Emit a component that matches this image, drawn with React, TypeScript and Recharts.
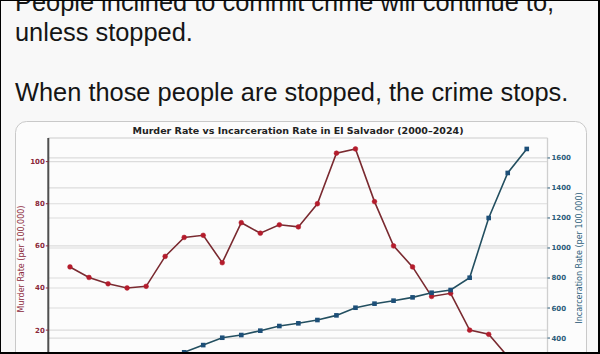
import React from "react";
import { ComposedChart, Line, XAxis, YAxis, CartesianGrid } from "recharts";

const years = [2000, 2001, 2002, 2003, 2004, 2005, 2006, 2007, 2008, 2009, 2010, 2011, 2012, 2013, 2014, 2015, 2016, 2017, 2018, 2019, 2020, 2021, 2022, 2023, 2024];
const murderRate = [50, 45, 42, 40, 40.8, 55, 64, 65, 52, 71, 66, 70, 69, 80, 104, 106, 81, 60, 50, 36, 37.5, 20, 18, 7.5, 2];
const incarcerationRate = [200, 210, 220, 230, 242, 260, 305, 353, 402, 420, 449, 480, 498, 520, 551, 602, 629, 649, 671, 702, 720, 802, 1200, 1500, 1660];

const yearTicks = [2000, 2005, 2010, 2015, 2020];
const murderTicks = [20, 40, 60, 80, 100];
const incarcerationTicks = [400, 600, 800, 1000, 1200, 1400, 1600];

const headerLines = [
  { text: "People inclined to commit crime will continue to,", y: 10.5 },
  { text: "unless stopped.", y: 40.7 },
  { text: "When those people are stopped, the crime stops.", y: 101 },
];
const title = "Murder Rate vs Incarceration Rate in El Salvador (2000\u20132024)";
const leftLabel = "Murder Rate (per 100,000)";
const rightLabel = "Incarceration Rate (per 100,000)";

const data = years.map((y, i) => ({ year: y, murder: murderRate[i], incarceration: incarcerationRate[i] }));

const RED_LINE = "#7a2a30";
const RED_DOT = "#b41c2c";
const BLUE_LINE = "#234f60";
const BLUE_DOT = "#1d4f78";
const RED_TEXT = "#8a2738";
const BLUE_TEXT = "#2b5c7a";
const FONT = "'DejaVu Sans', sans-serif";

const SquareDot = (props: any) => {
  const { cx, cy, index } = props;
  if (cx == null || cy == null) return <g key={index} />;
  return <rect key={index} x={cx - 2.3} y={cy - 2.3} width={4.6} height={4.6} fill={BLUE_DOT} />;
};

export default function App() {
  return (
    <div style={{ position: "absolute", left: 0, top: 0, width: 600, height: 354, overflow: "hidden", background: "#f8f8f8" }}>
      <svg width={600} height={354} style={{ position: "absolute", left: 0, top: 0 }}>
        <rect x={15.5} y={121.5} width={571} height={300} rx={11} ry={11} fill="#fcfcfc" stroke="#c9c9c9" strokeWidth={1} />
      </svg>
      <div style={{ position: "absolute", left: 0, top: 0 }}>
        <ComposedChart width={600} height={400} data={data} margin={{ top: 138, right: 22.5, bottom: 1, left: 18.3 }}>
          <CartesianGrid yAxisId="left" stroke="#dcdcdc" strokeWidth={1.2} vertical={true} horizontal={true} />
          <CartesianGrid yAxisId="right" stroke="#dcdcdc" strokeWidth={1.2} vertical={false} horizontal={true} />
          <XAxis
            dataKey="year"
            type="number"
            domain={[1998.86, 2025.09]}
            ticks={yearTicks}
            allowDataOverflow
            height={20}
            tick={false}
            tickLine={false}
            axisLine={{ stroke: "#555" }}
          />
          <YAxis
            yAxisId="left"
            orientation="left"
            type="number"
            domain={[-3.2, 111.2]}
            ticks={murderTicks}
            allowDataOverflow
            width={30}
            tickSize={2.5}
            tickMargin={1}
            tickLine={{ stroke: RED_TEXT }}
            axisLine={{ stroke: "#4f4f4f", strokeWidth: 2 }}
            tick={{ fontSize: 7, fontWeight: 700, fill: RED_TEXT, fontFamily: FONT }}
          />
          <YAxis
            yAxisId="right"
            orientation="right"
            type="number"
            domain={[127, 1733]}
            ticks={incarcerationTicks}
            allowDataOverflow
            width={30}
            tickSize={2.5}
            tickMargin={1.5}
            tickLine={{ stroke: BLUE_TEXT }}
            axisLine={{ stroke: "#cfcfcf", strokeWidth: 1.2 }}
            tick={{ fontSize: 7, fontWeight: 700, fill: BLUE_TEXT, fontFamily: FONT }}
          />
          <Line
            yAxisId="left"
            dataKey="murder"
            stroke={RED_LINE}
            strokeWidth={1.6}
            dot={{ r: 2.4, fill: RED_DOT, stroke: RED_DOT, strokeWidth: 0.5 }}
            isAnimationActive={false}
          />
          <Line
            yAxisId="right"
            dataKey="incarceration"
            stroke={BLUE_LINE}
            strokeWidth={1.6}
            dot={SquareDot}
            isAnimationActive={false}
          />
        </ComposedChart>
      </div>
      <svg width={600} height={354} style={{ position: "absolute", left: 0, top: 0, pointerEvents: "none" }}>
        {headerLines.map((l, i) => (
          <text key={i} x={15} y={l.y} fontFamily="'Liberation Sans', Arial, sans-serif" fontSize={25.4} fill="#151515">
            {l.text}
          </text>
        ))}
        <text x={298} y={134} textAnchor="middle" fontFamily={FONT} fontSize={9.5} fontWeight={700} fill="#222">
          {title}
        </text>
        <text x={21} y={259} transform="rotate(-90 21 259)" textAnchor="middle" dominantBaseline="central" fontFamily={FONT} fontSize={8} fill={RED_TEXT}>
          {leftLabel}
        </text>
        <text x={579} y={258} transform="rotate(-90 579 258)" textAnchor="middle" dominantBaseline="central" fontFamily={FONT} fontSize={8} fill={BLUE_TEXT}>
          {rightLabel}
        </text>
      </svg>
      <div style={{ position: "absolute", left: 0, top: 0, width: 600, height: 354, boxSizing: "border-box", borderLeft: "1px solid #000", borderTop: "1px solid #000", borderRight: "2px solid #000", borderBottom: "2px solid #000", pointerEvents: "none" }} />
    </div>
  );
}
